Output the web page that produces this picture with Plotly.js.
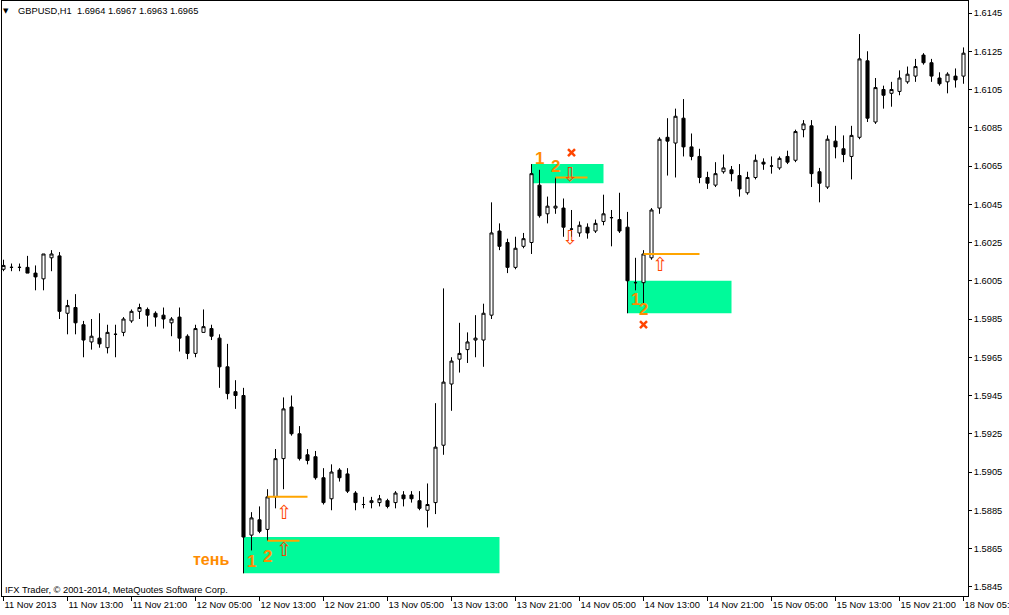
<!DOCTYPE html>
<html>
<head>
<meta charset="utf-8">
<script src="https://cdn.plot.ly/plotly-3.0.1.min.js"></script>
<style>
  html, body { margin: 0; padding: 0; background: #ffffff; }
  #chart { width: 1009px; height: 615px; }
</style>
</head>
<body>
<div id="chart"></div>
<script>
// GBPUSD H1 candles, bar by bar
const open = [
  1.6011, 1.6012, 1.6012, 1.6012, 1.6009, 1.6006, 1.6017, 1.6018, 1.5988, 1.5991,
  1.5982, 1.5973, 1.5975, 1.5970, 1.5977, 1.5978, 1.5984, 1.5989, 1.5990, 1.5988,
  1.5987, 1.5983, 1.5986, 1.5976, 1.5967, 1.5978, 1.5980, 1.5975, 1.5960, 1.5947,
  1.5945, 1.5872, 1.5880, 1.5875, 1.5892, 1.5912, 1.5939, 1.5925, 1.5914, 1.5913,
  1.5902, 1.5891, 1.5906, 1.5904, 1.5894, 1.5888, 1.5889, 1.5889, 1.5890, 1.5889,
  1.5893, 1.5893, 1.5890, 1.5885, 1.5889, 1.5919, 1.5951, 1.5964, 1.5969, 1.5974,
  1.5974, 1.5987, 1.6031, 1.6025, 1.6012, 1.6023, 1.6025, 1.6055, 1.6040, 1.6043,
  1.6043, 1.6032, 1.6030, 1.6033, 1.6031, 1.6036, 1.6038, 1.6037, 1.6033, 1.6004,
  1.6004, 1.6017, 1.6043, 1.6080, 1.6077, 1.6090, 1.6075, 1.6070, 1.6059, 1.6055,
  1.6062, 1.6063, 1.6060, 1.6051, 1.6059, 1.6067, 1.6065, 1.6064, 1.6070, 1.6068,
  1.6084, 1.6086, 1.6062, 1.6054, 1.6078, 1.6074, 1.6070, 1.6080, 1.6120, 1.6088,
  1.6105, 1.6103, 1.6104, 1.6109, 1.6112, 1.6123, 1.6119, 1.6111, 1.6109, 1.6112,
  1.6112
];
const high = [
  1.6016, 1.6014, 1.6014, 1.6018, 1.6013, 1.6019, 1.6021, 1.6020, 1.5995, 1.5998,
  1.5984, 1.5985, 1.5988, 1.5982, 1.5982, 1.5986, 1.5990, 1.5993, 1.5991, 1.5989,
  1.5991, 1.5986, 1.5991, 1.5977, 1.5982, 1.5990, 1.5982, 1.5977, 1.5972, 1.5953,
  1.5949, 1.5884, 1.5887, 1.5896, 1.5917, 1.5944, 1.5945, 1.5929, 1.5917, 1.5916,
  1.5907, 1.5909, 1.5907, 1.5907, 1.5895, 1.5892, 1.5892, 1.5893, 1.5891, 1.5895,
  1.5895, 1.5895, 1.5895, 1.5899, 1.5941, 1.6001, 1.5965, 1.5983, 1.5978, 1.5987,
  1.5993, 1.6046, 1.6035, 1.6027, 1.6028, 1.6030, 1.6066, 1.6063, 1.6049, 1.6059,
  1.6048, 1.6042, 1.6036, 1.6035, 1.6037, 1.6050, 1.6042, 1.6051, 1.6041, 1.6017,
  1.6021, 1.6043, 1.6080, 1.6090, 1.6095, 1.6100, 1.6082, 1.6074, 1.6062, 1.6067,
  1.6071, 1.6065, 1.6066, 1.6062, 1.6071, 1.6069, 1.6070, 1.6070, 1.6073, 1.6084,
  1.6089, 1.6089, 1.6064, 1.6081, 1.6086, 1.6081, 1.6086, 1.6134, 1.6125, 1.6111,
  1.6107, 1.6109, 1.6115, 1.6117, 1.6121, 1.6124, 1.6121, 1.6114, 1.6114, 1.6116,
  1.6127
];
const low = [
  1.6010, 1.6010, 1.6010, 1.6009, 1.6000, 1.6000, 1.6010, 1.5985, 1.5977, 1.5977,
  1.5965, 1.5969, 1.5970, 1.5967, 1.5965, 1.5976, 1.5983, 1.5985, 1.5981, 1.5981,
  1.5980, 1.5976, 1.5968, 1.5964, 1.5965, 1.5978, 1.5974, 1.5949, 1.5943, 1.5938,
  1.5852, 1.5864, 1.5873, 1.5869, 1.5886, 1.5896, 1.5924, 1.5911, 1.5909, 1.5901,
  1.5888, 1.5885, 1.5900, 1.5894, 1.5885, 1.5886, 1.5886, 1.5887, 1.5886, 1.5886,
  1.5887, 1.5889, 1.5885, 1.5876, 1.5883, 1.5914, 1.5937, 1.5957, 1.5962, 1.5965,
  1.5960, 1.5985, 1.6021, 1.6009, 1.6011, 1.6022, 1.6019, 1.6038, 1.6035, 1.6040,
  1.6028, 1.6028, 1.6028, 1.6027, 1.6030, 1.6034, 1.6023, 1.6030, 1.5988, 1.6000,
  1.5993, 1.6016, 1.6040, 1.6060, 1.6059, 1.6070, 1.6068, 1.6056, 1.6053, 1.6054,
  1.6061, 1.6057, 1.6049, 1.6050, 1.6058, 1.6063, 1.6061, 1.6063, 1.6066, 1.6067,
  1.6080, 1.6054, 1.6046, 1.6053, 1.6069, 1.6067, 1.6058, 1.6079, 1.6088, 1.6087,
  1.6095, 1.6096, 1.6102, 1.6108, 1.6109, 1.6118, 1.6109, 1.6107, 1.6103, 1.6106,
  1.6108
];
const close = [
  1.6013, 1.6012, 1.6012, 1.6009, 1.6007, 1.6019, 1.6019, 1.5989, 1.5992, 1.5983,
  1.5974, 1.5976, 1.5972, 1.5978, 1.5977, 1.5985, 1.5989, 1.5991, 1.5987, 1.5986,
  1.5985, 1.5985, 1.5975, 1.5967, 1.5980, 1.5981, 1.5976, 1.5960, 1.5946, 1.5945,
  1.5871, 1.5881, 1.5874, 1.5892, 1.5912, 1.5938, 1.5925, 1.5912, 1.5911, 1.5902,
  1.5889, 1.5905, 1.5902, 1.5895, 1.5889, 1.5888, 1.5890, 1.5891, 1.5887, 1.5894,
  1.5891, 1.5891, 1.5886, 1.5888, 1.5918, 1.5952, 1.5963, 1.5967, 1.5973, 1.5975,
  1.5988, 1.6030, 1.6023, 1.6012, 1.6022, 1.6027, 1.6061, 1.6039, 1.6044, 1.6044,
  1.6033, 1.6032, 1.6034, 1.6030, 1.6035, 1.6040, 1.6038, 1.6031, 1.6005, 1.6004,
  1.6019, 1.6042, 1.6079, 1.6078, 1.6091, 1.6075, 1.6070, 1.6059, 1.6056, 1.6061,
  1.6064, 1.6061, 1.6053, 1.6059, 1.6068, 1.6066, 1.6065, 1.6069, 1.6067, 1.6083,
  1.6087, 1.6061, 1.6056, 1.6079, 1.6075, 1.6071, 1.6081, 1.6121, 1.6090, 1.6106,
  1.6102, 1.6105, 1.6111, 1.6113, 1.6117, 1.6119, 1.6112, 1.6108, 1.6113, 1.6110,
  1.6124
];

// time axis: one label every 8 bars
const timeTickBars = [0, 8, 16, 24, 32, 40, 48, 56, 64, 72, 80, 88, 96, 104, 112, 120];
const timeTickLabels = [
  "11 Nov 2013", "11 Nov 13:00", "11 Nov 21:00", "12 Nov 05:00", "12 Nov 13:00",
  "12 Nov 21:00", "13 Nov 05:00", "13 Nov 13:00", "13 Nov 21:00", "14 Nov 05:00",
  "14 Nov 13:00", "14 Nov 21:00", "15 Nov 05:00", "15 Nov 13:00", "15 Nov 21:00",
  "18 Nov 05:00"
];
// price axis ticks
const priceTicks = [1.5845, 1.5865, 1.5885, 1.5905, 1.5925, 1.5945, 1.5965, 1.5985,
  1.6005, 1.6025, 1.6045, 1.6065, 1.6085, 1.6105, 1.6125, 1.6145];

// shadow zones (green rectangles)
const zoneStartBar = [30, 66, 78];
const zoneEndBar = [62, 75, 91];
const zoneTop = [1.5871, 1.6066, 1.6005];
const zoneBottom = [1.5852, 1.6056, 1.5988];

// orange levels
const levelStartBar = [33, 33, 69, 80];
const levelEndBar = [38, 37, 73, 87];
const levelPrice = [1.5892, 1.5869, 1.6059, 1.6019];

// numbered points
const pointText = ["1", "2", "1", "2", "1", "2"];
const pointBar = [31, 33, 67, 69, 79, 80];
const pointPrice = [1.5858, 1.5861, 1.6069, 1.6065, 1.5995, 1.5990];

// signal arrows
const arrowBar = [35, 35, 70.8, 70.8, 82];
const arrowPrice = [1.5884, 1.5865, 1.6061, 1.6028, 1.6014];
const arrowDir = ["up", "up", "down", "down", "up"];

// cancelled signals
const crossBar = [71, 80];
const crossPrice = [1.6072, 1.5982];

// caption of the lower zone
const shadowCaption = "тень";
const shadowCaptionBar = 28.4;
const shadowCaptionPrice = 1.5859;

const bars = open.map((_, i) => i);

// plot area geometry in pixels
const W = 1009, H = 615;
const M = { l: 2, r: 41, t: 1, b: 19 };
const plotW = W - M.l - M.r, plotH = H - M.t - M.b;
const px2paperX = px => (px - M.l) / plotW;
const px2paperY = py => (H - M.b - py) / plotH;

const ORANGE = "#FF8C00";
const LEVEL = "#FFA500";
const SIGNAL = "#FF4500";
const ZONE = "#00FA9A";
const AXIS_FONT = { family: "Liberation Sans, Arial, sans-serif", size: 9.3, color: "#000000" };

const candles = {
  type: "candlestick",
  x: bars,
  open: open, high: high, low: low, close: close,
  increasing: { line: { color: "#000000", width: 1 }, fillcolor: "#ffffff" },
  decreasing: { line: { color: "#000000", width: 1 }, fillcolor: "#000000" },
  whiskerwidth: 0,
  hoverinfo: "skip",
  showlegend: false
};

const crosses = {
  type: "scatter",
  mode: "markers",
  x: crossBar,
  y: crossPrice,
  marker: { symbol: "x-thin", size: 7, color: SIGNAL, line: { width: 2.5, color: SIGNAL } },
  hoverinfo: "skip",
  showlegend: false
};

const shapes = [];
zoneStartBar.forEach((s, i) => {
  shapes.push({
    type: "rect", xref: "x", yref: "y", layer: "below",
    x0: s, x1: zoneEndBar[i], y0: zoneBottom[i], y1: zoneTop[i],
    fillcolor: ZONE, line: { width: 0 }
  });
});
levelStartBar.forEach((s, i) => {
  shapes.push({
    type: "line", xref: "x", yref: "y",
    x0: s, x1: levelEndBar[i], y0: levelPrice[i], y1: levelPrice[i],
    line: { color: LEVEL, width: 2 }
  });
});

const annotations = [];
pointText.forEach((t, i) => {
  annotations.push({
    xref: "x", yref: "y", x: pointBar[i], y: pointPrice[i],
    text: "<b>" + t + "</b>", showarrow: false,
    font: { family: "Liberation Sans, Arial, sans-serif", size: 17, color: ORANGE }
  });
});
annotations.push({
  xref: "x", yref: "y", x: shadowCaptionBar, y: shadowCaptionPrice, xanchor: "right",
  text: "<b>" + shadowCaption + "</b>", showarrow: false,
  font: { family: "Liberation Sans, Arial, sans-serif", size: 16, color: ORANGE }
});
arrowBar.forEach((b, i) => {
  annotations.push({
    xref: "x", yref: "y", x: b, y: arrowPrice[i],
    text: arrowDir[i] === "up" ? "\u21E7" : "\u21E9", showarrow: false,
    font: { family: "DejaVu Sans, sans-serif", size: 19, color: SIGNAL }
  });
});
// chart header and footer
annotations.push({
  xref: "paper", yref: "paper", x: px2paperX(1), y: px2paperY(11),
  xanchor: "left", yanchor: "middle", text: "\u25BC", showarrow: false,
  font: { family: "DejaVu Sans, sans-serif", size: 7, color: "#000000" }
});
annotations.push({
  xref: "paper", yref: "paper", x: px2paperX(16), y: px2paperY(11),
  xanchor: "left", yanchor: "middle",
  text: "GBPUSD,H1\u00A0\u00A01.6964 1.6967 1.6963 1.6965", showarrow: false,
  font: AXIS_FONT
});
annotations.push({
  xref: "paper", yref: "paper", x: px2paperX(3), y: px2paperY(590),
  xanchor: "left", yanchor: "middle",
  text: "IFX Trader, \u00A9 2001-2014, MetaQuotes Software Corp.", showarrow: false,
  font: AXIS_FONT
});

const pxPerBar = 8;
const firstBarPx = 3.5;
const xStart = -(firstBarPx - M.l) / pxPerBar;
const xEnd = xStart + plotW / pxPerBar;

const pxPerPrice = 19125;      // pixels per 1.0 of price
const refPrice = 1.6145, refPx = 13;
const yTop = refPrice + (refPx - M.t) / pxPerPrice;
const yBottom = refPrice - (H - M.b - refPx) / pxPerPrice;

const layout = {
  width: W, height: H,
  margin: M,
  paper_bgcolor: "#ffffff",
  plot_bgcolor: "#ffffff",
  showlegend: false,
  hovermode: false,
  boxgap: 0.45,
  xaxis: {
    type: "linear",
    range: [xStart, xEnd],
    tickvals: timeTickBars,
    ticktext: timeTickLabels,
    tickangle: 0,
    ticks: "outside", ticklen: 4, tickwidth: 1, tickcolor: "#000000",
    ticklabelposition: "outside right",
    ticklabeloverflow: "allow",
    ticklabelstandoff: 0,
    tickfont: AXIS_FONT,
    showline: true, linecolor: "#000000", linewidth: 1, mirror: true,
    showgrid: false, zeroline: false,
    rangeslider: { visible: false },
    fixedrange: true
  },
  yaxis: {
    side: "right",
    range: [yBottom, yTop],
    tickvals: priceTicks,
    ticktext: priceTicks.map(v => v.toFixed(4)),
    ticks: "outside", ticklen: 3, tickwidth: 1, tickcolor: "#000000",
    tickfont: AXIS_FONT,
    showline: true, linecolor: "#000000", linewidth: 1, mirror: true,
    showgrid: false, zeroline: false,
    fixedrange: true
  },
  shapes: shapes,
  annotations: annotations
};

Plotly.newPlot("chart", [candles, crosses], layout, { staticPlot: true, displayModeBar: false });
</script>
</body>
</html>
